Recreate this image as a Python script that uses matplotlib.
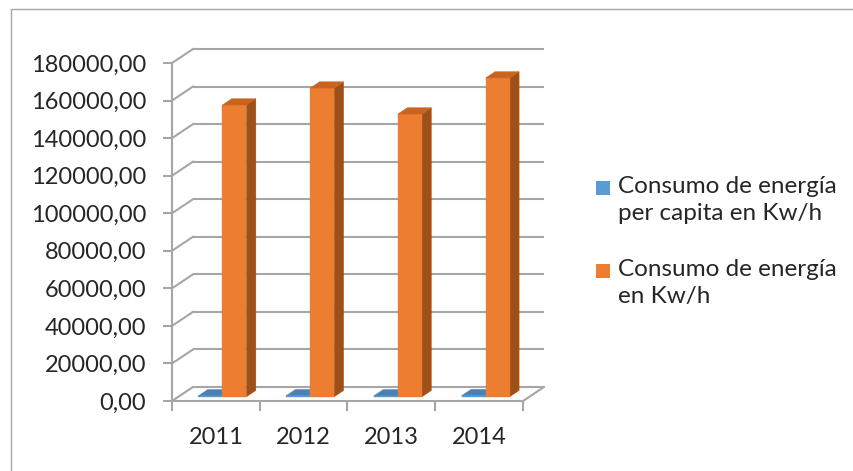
import numpy as np
import matplotlib
matplotlib.use("Agg")
import matplotlib.pyplot as plt
from matplotlib.patches import Polygon, Rectangle
from matplotlib.ticker import FuncFormatter

years = ["2011", "2012", "2013", "2014"]
series_names = ["Consumo de energía\nper capita en Kw/h",
                "Consumo de energía\nen Kw/h"]
per_capita = [520, 560, 500, 580]
total = [155400, 164400, 150600, 169800]
y_ticks = np.arange(0, 180001, 20000)

plt.rcParams['font.family'] = ['Lato', 'DejaVu Sans']

# colours: front, top, side
blue = ("#5B9BD5", "#4A80B2", "#3F6D98")
orange = ("#ED7D31", "#C8641F", "#9E501B")
grid_c = "#A6A6A6"

fig = plt.figure(figsize=(8.54, 4.71), dpi=100)
ax = fig.add_axes([172/854, 70/471, 351/854, 338/471])
ax.set_xlim(0, 4)
ax.set_ylim(0, 180000)

# oblique depth offset (full depth) in data units
DX = 21 / 87.75
DV = 14 * 180000 / 338


def proj(x, v, d):
    return (x + d * DX, v + d * DV)


# back wall gridlines + left wall diagonals
for v in y_ticks:
    ax.plot(*zip(proj(0, v, 1), proj(4, v, 1)), color=grid_c, lw=1.5,
            clip_on=False, zorder=1, solid_capstyle='butt')
    ax.plot(*zip(proj(0, v, 0), proj(0, v, 1)), color=grid_c, lw=1.5,
            clip_on=False, zorder=1)
# floor right edge
ax.plot(*zip(proj(4, 0, 0), proj(4, 0, 1)), color=grid_c, lw=1.5,
        clip_on=False, zorder=1)

BAR_W = 0.274
D0, D1 = 0.3, 0.75
starts = [0.228, 0.502]


def bar3d(x0, v, cols):
    x1 = x0 + BAR_W
    front = [proj(x0, 0, D0), proj(x1, 0, D0), proj(x1, v, D0), proj(x0, v, D0)]
    top = [proj(x0, v, D0), proj(x1, v, D0), proj(x1, v, D1), proj(x0, v, D1)]
    side = [proj(x1, 0, D0), proj(x1, v, D0), proj(x1, v, D1), proj(x1, 0, D1)]
    for pts, c in ((side, cols[2]), (front, cols[0]), (top, cols[1])):
        ax.add_patch(Polygon(pts, closed=True, fc=c, ec=c, lw=0.3,
                             clip_on=False, zorder=3))


for i in range(len(years)):
    bar3d(i + starts[0], per_capita[i], blue)
    bar3d(i + starts[1], total[i], orange)

# axes styling
for s in ("top", "right"):
    ax.spines[s].set_visible(False)
for s in ("left", "bottom"):
    ax.spines[s].set_color(grid_c)
    ax.spines[s].set_linewidth(1.5)
    ax.spines[s].set_zorder(2)
ax.set_facecolor("none")

ax.set_yticks(y_ticks)
ax.yaxis.set_major_formatter(FuncFormatter(lambda v, p: f"{v:.2f}".replace(".", ",")))
ax.tick_params(axis='y', length=6.5, width=1.5, color=grid_c, pad=12,
               labelsize=17, labelcolor="#262626")

ax.set_xticks(range(5))
ax.set_xticklabels([])
ax.set_xticks(np.arange(4) + 0.5, minor=True)
ax.set_xticklabels(years, minor=True)
ax.tick_params(axis='x', which='major', length=7, width=1.5, color=grid_c)
ax.tick_params(axis='x', which='minor', length=0, pad=19,
               labelsize=17, labelcolor="#262626")

# legend drawn by hand
sq = 14
for k, (name, cols) in enumerate(zip(series_names, (blue, orange))):
    ytop = 181 + k * 83
    fig.add_artist(Rectangle((596/854, 1 - (ytop + sq)/471), sq/854, sq/471,
                             transform=fig.transFigure, fc=cols[0], ec="none"))
    fig.text(618/854, 1 - (ytop - 5)/471, name, fontsize=17.5, color="#262626",
             va="top", ha="left", linespacing=1.35)

# outer chart border (only top and left fall inside the picture)
fig.add_artist(Rectangle((11/854, -0.1), 1.2, 1 - 9/471 + 0.1,
                         transform=fig.transFigure, fill=False,
                         ec="#A6A6A6", lw=1))

fig.savefig("out.png", dpi=100)
